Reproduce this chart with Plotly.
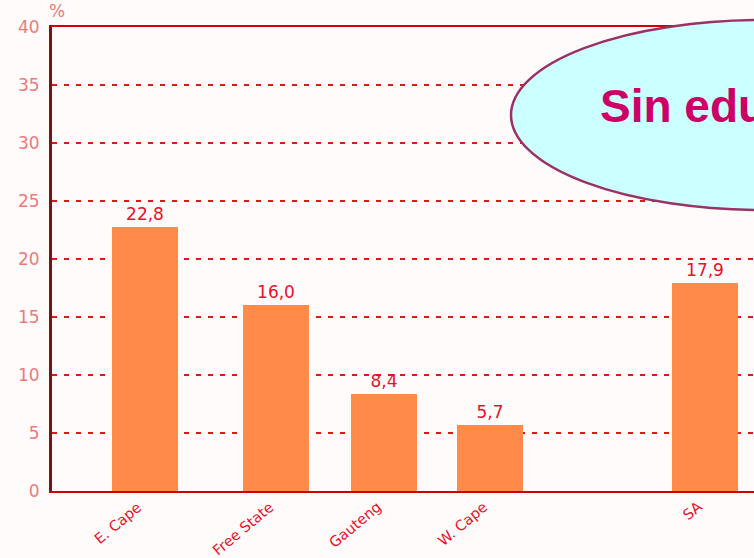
import plotly.graph_objects as go

categories = ["E. Cape", "Free State", "Gauteng", "W. Cape", "SA"]
values = [22.8, 16.0, 8.4, 5.7, 17.9]
slot_positions = [144.5, 276, 383.5, 490, 704.5]
y_ticks = [0, 5, 10, 15, 20, 25, 30, 35, 40]

W, H = 754, 558
L, T, B = 52, 27, 67

fig = go.Figure()
fig.add_trace(go.Bar(
    x=slot_positions, y=values, width=66,
    marker=dict(color="#FF8A4A", line=dict(width=0)),
    text=values, texttemplate="%{y:.1f}", textposition="outside",
    textfont=dict(color="#E8102A", size=17, family="DejaVu Sans"),
    constraintext="none", cliponaxis=False,
))

fig.update_layout(
    width=W, height=H,
    margin=dict(l=L, r=0, t=T, b=B, autoexpand=False),
    paper_bgcolor="#FFFBFB", plot_bgcolor="#FFFBFB",
    separators=", ",
    showlegend=False,
    bargap=0,
    xaxis=dict(
        range=[L, W], tickvals=slot_positions, showticklabels=False,
        showgrid=False, zeroline=False, automargin=False,
        showline=True, linecolor="#D00000", linewidth=2, mirror=True,
        ticks="", fixedrange=True,
    ),
    yaxis=dict(
        range=[0, 40], tickvals=y_ticks, automargin=False,
        tickfont=dict(color="#EC7A7A", size=17, family="DejaVu Sans"),
        ticks="outside", ticklen=6, tickcolor="rgba(0,0,0,0)",
        showgrid=True, gridcolor="#E01818", gridwidth=1.5, griddash="5px,7px",
        zeroline=False,
        showline=True, linecolor="#7A1414", linewidth=3,
    ),
    font=dict(family="DejaVu Sans"),
)

# rotated category labels, top-right corner anchored under each bar
for xpos, name in zip(slot_positions, categories):
    fig.add_annotation(x=xpos, y=0, xref="x", yref="y", text=name,
                       showarrow=False, textangle=-40,
                       xanchor="right", yanchor="top", xshift=3, yshift=-5,
                       font=dict(color="#E8102A", size=14.5, family="DejaVu Sans"))

# "%" unit label
fig.add_annotation(xref="paper", yref="paper", x=0.0, y=1.0, xshift=5, yshift=4,
                   text="%", showarrow=False, xanchor="center", yanchor="bottom",
                   font=dict(color="#EC7A7A", size=17, family="DejaVu Sans"))

def px_x(p):
    return (p - L) / (W - L)

def px_y(p):
    return 1 - (p - T) / (H - T - B)

# ellipse callout (runs off the right edge, as in the reference)
fig.add_shape(type="circle", xref="paper", yref="paper",
              x0=px_x(511), x1=px_x(1015), y0=px_y(210), y1=px_y(20),
              fillcolor="#CCFFFF", line=dict(color="#993366", width=2.5), layer="above")
fig.add_annotation(xref="paper", yref="paper", x=px_x(598), y=px_y(106),
                   text="<b>Sin educación</b>", showarrow=False,
                   xanchor="left", yanchor="middle",
                   font=dict(color="#CC0066", size=46, family="Liberation Sans"))

fig.write_html("out.html", config={"displayModeBar": False},
               post_script="document.body.style.margin='0';")
